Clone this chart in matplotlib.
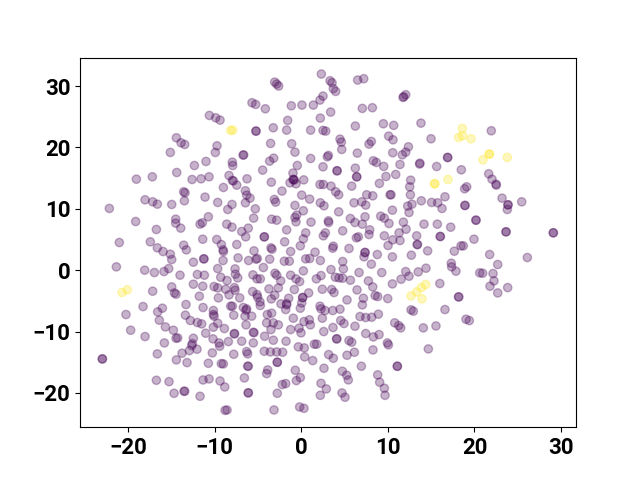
import numpy as np
import matplotlib
matplotlib.use('Agg')
import matplotlib.pyplot as plt

# values, (x, y), repeated pairs are the darker overlapping dots
purple_left = [
    (-10.61, 25.22), (-9.88, 24.84), (-9.38, 24.46), (-14.42, 21.58), (-13.88, 20.76), (-13.46, 20.49),
    (-15.12, 19.19), (-9.73, 20.27), (-9.92, 19.19), (-11.0, 17.72), (-12.34, 17.06), (-14.38, 15.92),
    (-17.2, 15.22), (-19.04, 14.83), (-12.61, 14.78), (-11.57, 14.89), (-10.65, 15.22), (-8.34, 15.43),
    (-7.96, 17.61), (-7.92, 17.06), (-6.72, 18.75), (-6.65, 18.8), (-7.96, 14.62), (-7.84, 14.56),
    (-7.45, 13.86), (-8.99, 13.48), (-6.45, 12.94), (-6.3, 12.23), (-13.58, 12.78), (-13.42, 12.61),
    (-11.11, 11.91), (-13.5, 11.31), (-18.04, 11.47), (-17.16, 11.14), (-16.62, 10.76), (-14.96, 10.71),
    (-9.65, 11.04), (-8.0, 10.71), (-8.49, 9.89), (-6.45, 10.98), (-22.16, 10.06), (-19.12, 7.93),
    (-10.73, 8.7), (-11.42, 7.72), (-11.69, 7.5), (-14.5, 8.31), (-14.5, 7.66), (-13.92, 6.85),
    (-16.73, 6.63), (-8.61, 7.5), (-8.0, 7.01), (-6.88, 6.3), (-6.42, 5.43), (-11.38, 5.05),
    (-9.76, 5.0), (-9.23, 4.18), (-7.45, 4.18), (-21.01, 4.51), (-17.43, 4.62), (-16.62, 3.64),
    (-15.96, 3.04), (-15.12, 2.6), (-14.96, 1.73), (-13.58, 4.07), (-13.27, 3.31), (-9.03, 3.31),
    (-8.99, 3.04), (-9.03, 1.57), (-7.3, 2.0), (-11.27, 1.84), (-11.23, 1.84), (-12.46, 1.3),
    (-21.35, 0.54), (-18.08, 0.0), (-16.96, -0.39), (-15.85, -0.23), (-15.31, 0.26), (-14.0, -0.82),
    (-12.0, -0.71), (-11.19, -0.82), (-9.65, 0.26), (-7.65, 0.21), (-7.61, -0.66), (-7.34, -1.26),
    (-9.3, -1.15), (-8.57, -1.69), (-12.46, -2.29), (-11.38, -2.62), (-10.07, -2.67), (-9.65, -2.89),
    (-8.73, -3.11), (-7.72, -2.84), (-7.65, -3.27), (-8.34, -4.03), (-7.11, -4.52), (-9.57, -4.52),
    (-11.77, -4.25), (-14.96, -2.73), (-14.65, -3.71), (-14.46, -3.92), (-17.16, -3.43), (-18.27, -5.93),
    (-16.04, -6.2), (-16.58, -6.8), (-13.31, -5.6), (-11.34, -6.09), (-10.15, -6.58), (-10.15, -7.23),
    (-10.07, -7.5), (-8.15, -5.87), (-7.96, -5.87), (-6.69, -6.09), (-6.38, -6.53), (-20.24, -7.23),
    (-7.8, -7.34), (-13.38, -7.34), (-16.39, -8.16), (-12.81, -8.21), (-12.0, -8.54), (-11.5, -8.76),
    (-9.65, -8.65), (-10.15, -9.3), (-8.88, -9.52), (-6.38, -8.92), (-15.69, -9.25), (-14.77, -9.79),
    (-19.7, -9.79), (-18.04, -10.82), (-11.04, -10.28), (-7.72, -10.33), (-7.72, -10.39), (-14.46, -11.1),
    (-14.27, -11.04), (-12.46, -11.1), (-10.19, -11.2), (-9.5, -11.86), (-9.42, -12.4), (-8.42, -11.64),
    (-6.88, -11.58), (-15.81, -11.86), (-12.58, -11.97), (-12.65, -12.29), (-12.04, -12.89), (-12.92, -13.11),
    (-10.27, -13.49), (-16.62, -13.65), (-13.77, -13.54), (-7.8, -13.71), (-14.42, -14.63), (-13.19, -15.07),
    (-10.73, -15.18), (-9.23, -15.23), (-9.0, -15.28), (-22.97, -14.47), (-22.97, -14.47), (-16.73, -17.95),
    (-15.27, -18.17), (-11.34, -17.9), (-10.65, -17.73), (-9.38, -18.06), (-8.84, -19.04), (-6.57, -17.57),
    (-14.69, -20.07), (-13.54, -19.74), (-13.46, -19.74), (-11.69, -20.56), (-8.8, -22.85), (-8.57, -22.79),
]

purple_middle_top = [
    (2.32, 31.97), (6.51, 30.99), (7.21, 31.21), (3.32, 30.88), (3.55, 30.55), (3.7, 29.58),
    (3.97, 29.14), (-3.07, 30.66), (-2.84, 30.34), (-2.61, 30.01), (12.06, 28.6), (11.75, 28.16),
    (11.83, 28.27), (-5.69, 27.29), (-5.27, 27.02), (-4.15, 26.31), (-1.15, 26.8), (0.08, 26.91),
    (1.39, 26.91), (2.51, 28.38), (2.16, 27.73), (3.39, 25.77), (7.05, 26.37), (8.21, 26.48),
    (2.2, 24.79), (-1.57, 24.41), (6.24, 23.49), (9.48, 23.87), (10.67, 23.6), (-5.23, 22.67),
    (-5.23, 22.67), (-3.23, 23.21), (-1.69, 22.83), (1.08, 22.83), (2.51, 22.78), (2.82, 22.67),
    (10.09, 21.85), (10.59, 21.25), (4.47, 21.36), (4.63, 20.87), (4.67, 19.68), (8.09, 20.98),
    (7.82, 20.55), (-3.54, 20.66), (-1.11, 20.6), (-0.73, 19.24), (12.37, 20.11), (12.06, 19.24),
    (11.67, 18.8), (10.56, 19.14), (6.47, 19.08), (3.13, 18.7), (3.01, 18.48), (-3.19, 18.26),
    (-3.65, 17.77), (1.08, 18.21), (8.32, 17.83), (8.67, 17.56), (9.52, 16.91), (11.4, 17.23),
    (-0.46, 17.06), (2.51, 16.85), (-4.46, 16.31), (6.24, 16.63), (4.13, 16.2), (4.13, 16.2),
    (-0.96, 15.82), (6.4, 15.22), (6.4, 15.22), (9.78, 15.27), (10.9, 15.6), (-6.27, 14.89),
    (-0.92, 14.78), (-0.92, 14.78), (-0.8, 14.7), (0.28, 14.72), (12.63, 14.67), (-3.46, 14.34),
]

purple_middle = [
    (-1.3, 14.24), (-0.61, 14.08), (2.16, 13.97), (2.55, 13.97), (3.43, 13.7), (3.97, 12.78),
    (4.32, 12.29), (5.82, 13.7), (9.02, 14.14), (12.52, 13.59), (-5.92, 11.74), (-2.23, 12.89),
    (0.05, 12.23), (0.97, 11.58), (-3.11, 11.53), (-2.96, 11.09), (-0.73, 10.55), (0.24, 9.68),
    (2.2, 10.98), (2.62, 10.49), (4.32, 9.51), (6.09, 10.98), (6.98, 11.14), (7.44, 10.6),
    (7.55, 12.29), (8.25, 12.12), (10.25, 12.29), (10.36, 12.29), (12.6, 12.29), (10.52, 9.78),
    (12.29, 10.44), (12.44, 9.4), (-5.31, 10.0), (-5.5, 8.48), (-3.42, 8.31), (-2.84, 8.15),
    (-0.53, 8.97), (-0.73, 8.59), (-0.61, 7.88), (1.12, 7.83), (3.13, 8.04), (3.16, 7.77),
    (5.67, 8.42), (6.2, 7.77), (7.05, 7.5), (7.36, 8.7), (9.17, 8.8), (9.59, 8.48),
    (10.13, 7.61), (11.79, 7.83), (12.1, 6.68), (-6.12, 6.85), (-1.69, 6.57), (4.78, 6.41),
    (7.9, 6.57), (7.82, 5.81), (6.59, 5.43), (6.36, 5.27), (2.78, 6.08), (2.55, 5.6),
    (0.51, 6.08), (0.24, 5.11), (-4.27, 5.43), (-4.27, 5.43), (-1.92, 4.62), (9.59, 5.6),
    (11.29, 6.08), (10.56, 4.94), (11.4, 4.83), (10.02, 4.02), (-0.11, 3.96), (-3.5, 3.64),
    (-3.38, 3.42), (3.7, 3.91), (3.63, 3.58), (5.51, 3.53), (-1.23, 3.04), (1.59, 2.93),
    (-5.46, 3.15), (7.36, 2.88), (7.36, 2.88), (7.24, 2.17), (8.78, 2.55), (12.71, 2.44),
    (10.52, 2.17), (-5.08, 1.9), (-5.23, 1.79), (-6.08, 1.57), (-3.65, 1.79), (-1.96, 1.46),
    (-1.38, 1.46), (0.51, 1.84), (0.97, 1.9), (2.2, 1.57), (4.78, 1.41), (8.09, 0.97),
    (-4.38, 0.43), (0.24, -0.12), (3.43, 0.1), (4.86, 0.21), (6.67, -0.39), (9.29, -0.39),
    (12.06, -0.23), (12.44, -0.99), (11.52, -1.48), (-5.58, -0.77), (-3.04, -0.5), (-2.84, -0.82),
    (-5.11, -1.42), (-4.73, -1.42), (-2.38, -1.75), (-1.23, -0.82), (-0.61, -1.42), (-0.19, -1.86),
    (1.74, -1.42), (2.28, -0.88), (3.93, -1.15), (4.36, -1.26), (4.78, -1.31), (5.67, -1.64),
    (7.75, -1.75), (10.52, -2.24), (8.25, -2.73), (-3.73, -3.05), (-2.65, -2.89), (-5.62, -3.49),
    (-5.11, -3.98), (-5.04, -4.42), (-0.8, -3.16), (2.43, -3.11), (3.51, -3.16), (3.78, -3.65),
    (6.44, -3.22), (0.85, -3.71), (-3.07, -4.09), (-3.46, -4.69), (0.16, -4.47), (0.16, -4.47),
    (-1.46, -4.58), (8.52, -4.14), (8.82, -4.3), (9.98, -4.63), (5.28, -4.85), (7.17, -4.58),
    (-4.77, -5.17), (-1.69, -5.45), (0.05, -5.34),
]

purple_middle_bottom = [
    (-4.73, -5.76), (-6.31, -6.31), (-2.34, -5.49), (-1.69, -5.65), (-1.8, -6.42), (-0.11, -6.2),
    (2.16, -5.87), (2.28, -6.31), (2.74, -6.58), (3.63, -6.58), (4.47, -6.36), (7.05, -5.66),
    (12.67, -6.47), (12.94, -6.69), (-3.92, -7.23), (-3.42, -7.01), (-5.73, -7.5), (-6.5, -7.5),
    (-0.92, -7.83), (2.43, -7.83), (6.78, -7.56), (7.44, -7.72), (8.13, -7.67), (8.9, -7.18),
    (4.55, -8.21), (4.93, -8.7), (6.2, -9.14), (-4.0, -8.59), (-3.23, -8.59), (-2.65, -8.92),
    (0.93, -8.1), (0.31, -8.38), (1.05, -8.92), (-3.5, -9.68), (-1.23, -9.68), (-0.26, -9.46),
    (-0.03, -10.22), (10.79, -8.59), (11.25, -9.03), (11.48, -9.41), (3.66, -9.35), (2.59, -10.01),
    (-5.54, -10.12), (-5.46, -10.2), (7.44, -10.33), (8.32, -10.88), (8.98, -10.5), (-4.23, -10.77),
    (-3.23, -11.42), (-1.76, -11.58), (4.09, -11.2), (4.09, -11.2), (5.51, -11.48), (5.82, -11.75),
    (-5.54, -11.86), (9.94, -11.86), (10.06, -12.18), (-0.34, -12.5), (0.35, -12.67), (1.51, -12.07),
    (1.78, -12.07), (-6.31, -13.27), (-6.19, -13.65), (-4.27, -13.22), (-3.57, -13.33), (-2.84, -13.33),
    (-2.15, -13.38), (6.13, -13.38), (8.28, -13.0), (3.16, -13.76), (3.7, -14.36), (5.28, -13.87),
    (0.39, -14.14), (1.32, -14.74), (-2.77, -15.01), (-2.77, -15.01), (-6.19, -15.66), (-6.12, -15.66),
    (6.94, -15.66), (11.09, -15.66), (11.09, -15.66), (2.62, -15.99), (-0.69, -16.32), (-3.88, -16.26),
    (-4.0, -16.86), (4.74, -16.48), (5.24, -17.13), (5.43, -17.89), (8.82, -17.07), (-0.11, -17.51),
    (-0.57, -18.0), (-2.19, -18.65), (-1.8, -18.49), (2.28, -18.44), (2.89, -19.36), (9.05, -18.27),
    (9.59, -19.25), (-6.12, -20.0), (-6.12, -20.0), (-2.77, -20.07), (2.2, -20.4), (4.7, -20.01),
    (5.05, -20.72), (9.67, -20.4), (-3.15, -22.79), (-0.19, -22.3), (0.31, -22.52),
]

purple_right = [
    (13.82, 23.97), (14.98, 21.42), (21.94, 22.72), (13.7, 17.44), (13.66, 17.3), (16.9, 18.37),
    (16.9, 18.37), (15.63, 16.9), (18.48, 16.36), (21.64, 15.71), (22.02, 14.83), (22.48, 14.02),
    (19.1, 13.59), (18.86, 13.27), (22.52, 13.86), (16.59, 11.96), (23.18, 11.74), (13.86, 11.31),
    (15.05, 11.04), (15.75, 10.98), (16.25, 10.06), (12.78, 10.76), (18.9, 10.55), (18.9, 10.55),
    (23.87, 10.65), (23.87, 10.65), (23.79, 9.89), (25.45, 11.14), (20.17, 8.15), (20.17, 8.15),
    (14.17, 7.5), (15.71, 7.5), (17.25, 7.01), (23.64, 6.25), (23.64, 6.25), (29.1, 6.09),
    (29.1, 6.09), (13.32, 5.6), (16.05, 5.49), (16.05, 5.49), (19.94, 5.05), (13.4, 4.18),
    (13.4, 4.18), (18.44, 3.96), (18.71, 3.96), (17.67, 3.09), (14.59, 3.15), (21.75, 2.55),
    (26.1, 2.06), (22.68, 0.92), (17.32, 1.13), (17.36, 0.54), (17.86, -0.17), (14.4, 0.32),
    (13.51, -0.28), (20.6, -0.44), (20.94, -0.5), (22.14, -0.55), (22.25, -1.75), (21.79, -2.62),
    (23.83, -2.84), (22.68, -3.71), (16.0, -2.18), (18.17, -4.36), (18.17, -4.36), (16.59, -6.42),
    (19.02, -8.0), (19.4, -8.22), (15.55, -9.09), (14.09, -9.41), (14.67, -12.84),
]

yellow_points = [
    (-8.15, 22.78), (-7.92, 22.83), (-20.7, -3.65), (-20.08, -3.2), (18.59, 23.1), (18.17, 21.63),
    (18.63, 21.91), (19.6, 21.42), (20.98, 17.99), (21.71, 18.92), (21.71, 18.92), (23.79, 18.37),
    (15.4, 14.08), (15.4, 14.08), (16.94, 14.79), (14.36, -2.35), (13.86, -2.84), (13.32, -3.54),
    (12.67, -4.2), (13.94, -4.68),
]

xticks = [-20, -10, 0, 10, 20, 30]
yticks = [-20, -10, 0, 10, 20, 30]

purple = np.array(purple_left + purple_middle_top + purple_middle + purple_middle_bottom + purple_right)
yellow = np.array(yellow_points)
points = np.vstack([purple, yellow])
labels = np.r_[np.zeros(len(purple)), np.ones(len(yellow))]

fig, ax = plt.subplots(figsize=(6.4, 4.8), dpi=100)
ax.scatter(points[:, 0], points[:, 1], c=labels, cmap='viridis', alpha=0.3)

ax.set_xlim(-25.55, 31.72)
ax.set_ylim(-25.6, 34.65)
ax.set_xticks(xticks)
ax.set_yticks(yticks)

for tick in ax.get_xticklabels() + ax.get_yticklabels():
    tick.set_fontname('Roboto')
    tick.set_fontweight('bold')
    tick.set_fontsize(16)

plt.savefig('out.png', dpi=100)
